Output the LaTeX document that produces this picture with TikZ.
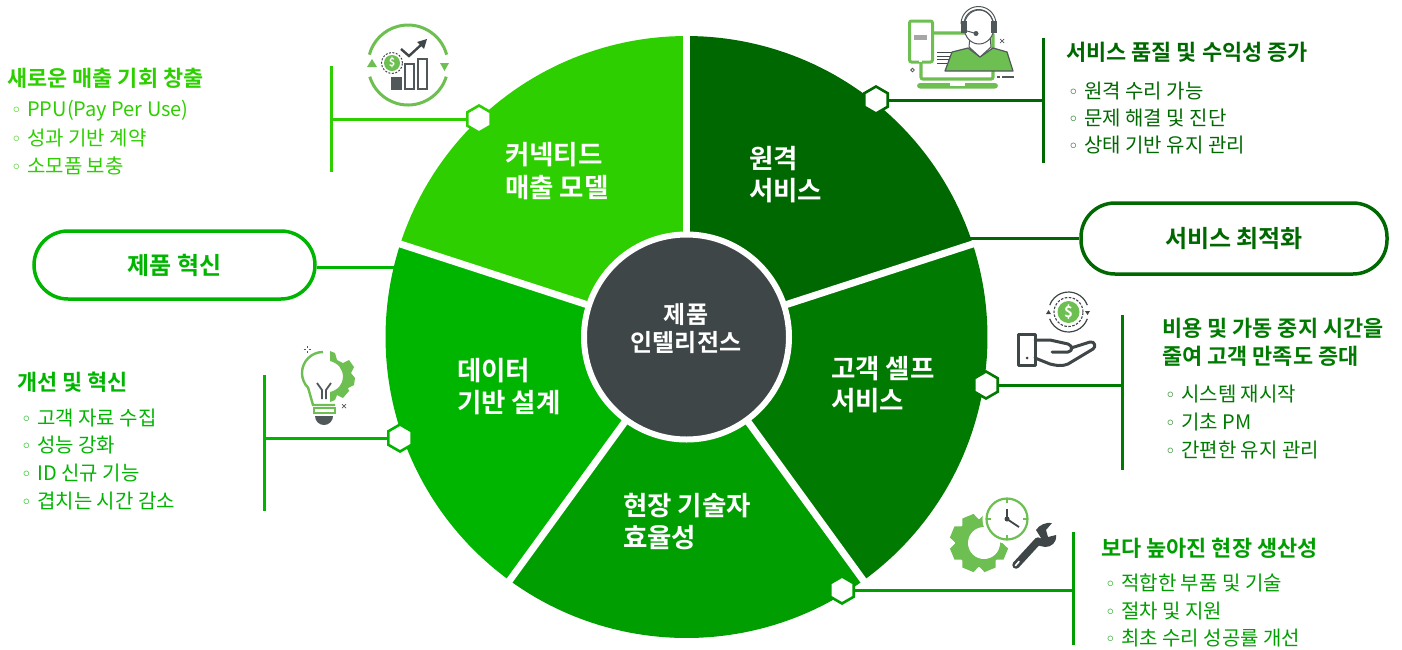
\documentclass[tikz,border=0pt]{standalone}
\usepackage{fontspec}
\setmainfont{Noto Sans CJK KR}
\newfontfamily\krbold{Noto Sans CJK KR Bold}
\newfontfamily\krmed{Noto Sans CJK KR Medium}
\newfontfamily\bulletfont{DejaVu Sans}
\usetikzlibrary{shapes.geometric}
\definecolor{cA}{HTML}{2DCF00}
\definecolor{cB}{HTML}{006800}
\definecolor{cC}{HTML}{007A00}
\definecolor{cD}{HTML}{009E00}
\definecolor{cE}{HTML}{00B500}
\definecolor{hub}{HTML}{3F4648}
\definecolor{leaf}{HTML}{6CBF50}
\definecolor{ink}{HTML}{50585A}
\newcommand{\wedgepart}[3]{\fill[#1] (686.5,337) -- plot[domain=#2:#3,samples=50] ({686.5+301*cos(\x)},{337-301*sin(\x)}) -- cycle;}
\newcommand{\li}[1]{{\bulletfont\fontsize{18}{18}\selectfont ◦}\hspace{5.5pt}#1}
\tikzset{
  x=1pt,y=-1pt,
  hexa/.style={regular polygon,regular polygon sides=6,shape border rotate=30,minimum size=27pt,inner sep=0pt,fill=white,line width=2.6pt},
  pill/.style={rounded corners=34pt,fill=white,line width=3.5pt,inner sep=0pt,font=\krbold\fontsize{24}{24}\selectfont},
  head/.style={anchor=west,inner sep=0pt,font=\krbold\fontsize{21.9}{21.9}\selectfont},
  item/.style={anchor=west,inner sep=0pt,font=\fontsize{20}{20}\selectfont},
  wlabel/.style={anchor=west,inner sep=0pt,text=white,font=\krbold\fontsize{26.5}{26.5}\selectfont},
  clabel/.style={inner sep=0pt,text=white,font=\krbold\fontsize{24}{24}\selectfont},
  conn/.style={line width=3pt},
  icong/.style={draw=hub,line width=3pt,line join=round,line cap=round},
}
\begin{document}
\begin{tikzpicture}
\useasboundingbox (0,0) rectangle (1402,649);
% wedges
\wedgepart{cB}{90}{18}
\wedgepart{cC}{18}{-54}
\wedgepart{cD}{-54}{-126}
\wedgepart{cE}{-126}{-198}
\wedgepart{cA}{162}{90}
\foreach \a in {90,18,-54,-126,162}
  \draw[white,line width=7pt] (686.5,337) -- ({686.5+304*cos(\a)},{337-304*sin(\a)});
\node[circle,fill=hub,draw=white,line width=6pt,minimum size=205pt,inner sep=0pt] (core) at (686.5,337) {};
\node[clabel] (t0a) at (686,314) {제품};
\node[clabel] (t0b) at (686,343) {인텔리전스};
% wedge labels
\node[wlabel] (w1a) at (505,155) {커넥티드};
\node[wlabel] (w1b) at (505,188) {매출 모델};
\node[wlabel] (w2a) at (749,159) {원격};
\node[wlabel] (w2b) at (749,191) {서비스};
\node[wlabel] (w3a) at (831,369) {고객 셀프};
\node[wlabel] (w3b) at (831,401) {서비스};
\node[wlabel] (w4a) at (623,506) {현장 기술자};
\node[wlabel] (w4b) at (623,538) {효율성};
\node[wlabel] (w5a) at (457,371) {데이터};
\node[wlabel] (w5b) at (457,403) {기반 설계};
% pills
\coordinate (edgeL) at (396,267);
\coordinate (edgeR) at (970,238);
\node[pill,draw=cE,text=cE,minimum width=281pt,minimum height=68pt,text=cE] (pL) at (174.5,265) {제품 혁신};
\node[pill,draw=cB,text=cB,minimum width=306pt,minimum height=71pt] (pR) at (1234,238.5) {서비스 최적화};
\draw[conn,cE] (pL.east |- edgeL) -- (edgeL);
\draw[conn,cB] (edgeR) -- (pR.west |- edgeR);
% top-left callout
\coordinate (b1a) at (331,66); \coordinate (b1b) at (331,172); \coordinate (b1c) at (331,119);
\draw[conn,cA] (b1a) -- (b1b);
\node[hexa,draw=cA] (h1) at (479,119) {};
\draw[conn,cA] (b1c) -- (h1);
\node[head,text=cA] (a0) at (7,78) {새로운 매출 기회 창출};
\node[item,text=cA] (a1) at (11,111) {\li{PPU(Pay Per Use)}};
\node[item,text=cA] (a2) at (11,138) {\li{성과 기반 계약}};
\node[item,text=cA] (a3) at (11,166) {\li{소모품 보충}};
% top-right callout
\coordinate (b2a) at (1043,38); \coordinate (b2b) at (1043,163); \coordinate (b2c) at (1043,100);
\draw[conn,cB] (b2a) -- (b2b);
\node[hexa,draw=cB] (h2) at (876,100) {};
\draw[conn,cB] (h2) -- (b2c);
\node[head,text=cB] (c0) at (1066,52) {서비스 품질 및 수익성 증가};
\node[item,text=cB] (c1) at (1068,91) {\li{원격 수리 가능}};
\node[item,text=cB] (c2) at (1068,118) {\li{문제 해결 및 진단}};
\node[item,text=cB] (c3) at (1068,145) {\li{상태 기반 유지 관리}};
% right callout
\coordinate (b3a) at (1122,315); \coordinate (b3b) at (1122,470); \coordinate (b3c) at (1122,385);
\draw[conn,cC] (b3a) -- (b3b);
\node[hexa,draw=cC] (h3) at (986,385) {};
\draw[conn,cC] (h3) -- (b3c);
\node[head,text=cC] (d0) at (1162,328) {비용 및 가동 중지 시간을};
\node[head,text=cC] (d0b) at (1162,356) {줄여 고객 만족도 증대};
\node[item,text=cC] (d1) at (1165,394) {\li{시스템 재시작}};
\node[item,text=cC] (d2) at (1165,422) {\li{기초 PM}};
\node[item,text=cC] (d3) at (1165,450) {\li{간편한 유지 관리}};
% bottom-right callout
\coordinate (b4a) at (1073,532); \coordinate (b4b) at (1073,645); \coordinate (b4c) at (1073,590);
\draw[conn,cD] (b4a) -- (b4b);
\node[hexa,draw=cD] (h4) at (842,590) {};
\draw[conn,cD] (h4) -- (b4c);
\node[head,text=cD] (e0) at (1101,548) {보다 높아진 현장 생산성};
\node[item,text=cD] (e1) at (1105,583) {\li{적합한 부품 및 기술}};
\node[item,text=cD] (e2) at (1105,611) {\li{절차 및 지원}};
\node[item,text=cD] (e3) at (1105,638) {\li{최초 수리 성공률 개선}};
% left callout
\coordinate (b5a) at (264,375); \coordinate (b5b) at (264,511); \coordinate (b5c) at (264,438);
\draw[conn,cE] (b5a) -- (b5b);
\node[hexa,draw=cE] (h5) at (400,438) {};
\draw[conn,cE] (b5c) -- (h5);
\node[head,text=cE] (f0) at (17,382) {개선 및 혁신};
\node[item,text=cE] (f1) at (21,418) {\li{고객 자료 수집}};
\node[item,text=cE] (f2) at (21,445) {\li{성능 강화}};
\node[item,text=cE] (f3) at (21,473) {\li{ID 신규 기능}};
\node[item,text=cE] (f4) at (21,501) {\li{겹치는 시간 감소}};
% ICON: revenue
\draw[leaf,line width=3pt] (408,65) ++(15:40pt) arc[start angle=15,end angle=165,radius=40pt];
\draw[leaf,line width=3pt] (408,65) ++(-17:40pt) arc[start angle=-17,end angle=-163,radius=40pt];
\fill[leaf] (367,67) -- (377,67) -- (372,59) -- cycle;
\fill[leaf] (440,63) -- (449,63) -- (444.5,71) -- cycle;
\fill[leaf] (392,63) circle (8pt);
\draw[hub,line width=1pt,dash pattern=on 2pt off 1.5pt] (392,63) circle (10.5pt);
\node[inner sep=0pt,text=white,font=\krbold\fontsize{11}{11}\selectfont] (usd1) at (392,63) {\$};
\fill[ink] (391,77) rectangle (402,90);
\draw[ink,line width=1.4pt] (405,64) rectangle (414,89);
\draw[ink,line width=1.4pt] (418,59) rectangle (427,89);
\draw[hub,line width=2.4pt] (401,49) -- (409,56) -- (422,44);
\fill[hub] (427,39) -- (417,42) -- (424,49) -- cycle;
% ICON: remote agent
\draw[leaf,line width=3.2pt,rounded corners=2pt] (921,33) rectangle (993,79);
\fill[leaf,rounded corners=3pt] (917,83) rectangle (998,88.5);
\fill[white] (950,83) rectangle (965,86);
\draw[leaf,fill=white,line width=3pt,rounded corners=2pt] (909.5,21) rectangle (932.5,62);
\fill[white] (919,59) rectangle (922,62);
\fill[gray!70] (914,35) rectangle (927,40);
\foreach \yy in {52,56,59,63} \draw[hub,line width=1pt] (937,\yy) -- (952,\yy);
\fill[leaf] (945,71) -- (952,52) -- (968,48) -- (980,57) -- (993,48) -- (1007,52) -- (1013,71) -- cycle;
\draw[ink,line width=1.2pt,line join=round] (945,71) -- (952,52) -- (968,48) -- (980,57) -- (993,48) -- (1007,52) -- (1013,71) -- cycle;
\draw[ink,fill=white,line width=1pt] (970,36) -- (969,47) -- (980,57) -- (991,47) -- (990,36) -- cycle;
\draw[ink,fill=white,line width=1pt] (979,27) ellipse (15pt and 17pt);
\draw[ink,line width=1pt] (961,24) arc[start angle=180,end angle=0,radius=17.5pt];
\draw[ink,line width=1pt] (964,24) arc[start angle=180,end angle=0,radius=14.5pt];
\fill[ink] (961,21) rectangle (967,33);
\fill[ink] (991,21) rectangle (997,33);
\draw[ink,line width=1pt] (967,31) -- (976,33.5);
\fill[ink] (976,33.5) circle (2.5pt);
\draw[ink,line width=.8pt] (912.5,70) circle (1.8pt);
\draw[ink,line width=1.4pt] (997,77) -- (1000,77) (1002,77) -- (1014,77);
\draw[ink,line width=.7pt] (1000,39) -- (1004,43) (1004,39) -- (1000,43);
% ICON: hand
\fill[leaf] (1068.5,312) circle (11pt);
\node[inner sep=0pt,text=white,font=\krbold\fontsize{15}{15}\selectfont] (usd2) at (1068.5,312) {\$};
\draw[hub,line width=1.1pt,dash pattern=on 2.5pt off 1.5pt] (1068.5,312) circle (14.5pt);
\draw[hub,line width=1.2pt] (1068.5,312) ++(20:20pt) arc[start angle=20,end angle=160,radius=20pt];
\draw[hub,line width=1.2pt] (1068.5,312) ++(-20:20pt) arc[start angle=-20,end angle=-160,radius=20pt];
\fill[hub] (1046,314) -- (1051,314) -- (1048.5,310) -- cycle;
\fill[hub] (1085,311) -- (1090,311) -- (1087.5,315) -- cycle;
\draw[icong] (1018,334) rectangle (1035,365);
\fill[hub] (1027,358) circle (1.5pt);
\draw[icong] (1035,340) -- (1050,340) -- (1068,344) .. controls (1073,346) and (1073,351) .. (1068,352) -- (1052,352);
\draw[icong] (1071,348) -- (1090,342) .. controls (1095,341) and (1096,347) .. (1093,349) -- (1068,364) .. controls (1060,367) and (1055,365) .. (1050,364) -- (1035,358);
% ICON: bulb
\draw[leaf,line width=2.4pt] (323,352) arc[start angle=90,end angle=225,radius=21pt] -- (313,405) -- (335,405);
\fill[leaf] (330,351) -- (335,353) -- (337,360) -- (343,363) -- (349,360) -- (354,367) -- (351,373) -- (355,378) -- (354,385) -- (348,388) -- (349,391) -- (343,398) -- (337,395) -- (335,400) -- (330,402) -- (330,392) .. controls (338,390) and (343,384) .. (343,377) .. controls (343,369) and (338,363) .. (330,361) -- cycle;
\draw[leaf,line width=2pt] (314,407.5) rectangle (335,412.5);
\fill[ink] (315,416) -- (333,416) arc[start angle=0,end angle=-180,radius=9pt] -- cycle;
\draw[ink,line width=1.8pt] (317,383) -- (322,390) -- (322,399) (331,383) -- (326,390) -- (326,399);
\draw[ink,line width=.6pt] (307,346) -- (307,348) (307,351) -- (307,353) (303.5,349.5) -- (305.5,349.5) (308.5,349.5) -- (310.5,349.5);
\draw[ink,line width=.7pt] (342,404) -- (346,408) (346,404) -- (342,408);
% ICON: gear, clock, wrench
\foreach \r in {0,45,...,315}
  \fill[leaf,rotate around={\r+22.5:(979,543)}] (973,514) -- (985,514) -- (989,524) -- (969,524) -- cycle;
\fill[leaf] (979,543) circle (24pt);
\fill[white] (984,543) circle (16pt);
\draw[leaf,fill=white,line width=2.2pt,preaction={draw=white,line width=8pt}] (1007,519) circle (20.5pt);
\draw[leaf,line width=1.5pt] (1007,499) -- (1007,503) (1007,535) -- (1007,539) (987,519) -- (991,519) (1023,519) -- (1027,519);
\draw[hub,line width=1.8pt] (1007,509) -- (1007,519) -- (1019,527);
\fill[hub] (1007,519) circle (2.5pt);
\draw[hub,line width=7.5pt,line cap=round] (1016,565) -- (1038,541);
\draw[white,line width=1.6pt,line cap=round] (1015.5,565.5) -- (1019,561.5);
\fill[hub] (1041,538) -- (1036,530) .. controls (1039,525) and (1046,522) .. (1052,523) -- (1046,530) -- (1048,537) -- (1056,535) .. controls (1057,543) and (1051,547) .. (1045,547) -- (1036,545) -- cycle;
\end{tikzpicture}
\end{document}
